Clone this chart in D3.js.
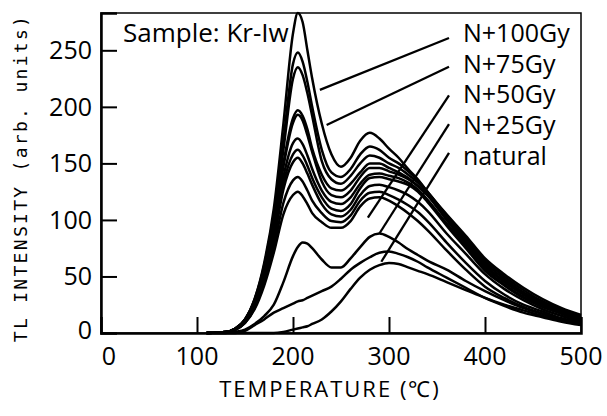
<!DOCTYPE html>
<html>
<head>
<meta charset="utf-8">
<script src="https://cdn.jsdelivr.net/npm/d3@7"></script>
<style>
  body { margin: 0; background: #fff; }
  svg text { font-family: "Open Sans", sans-serif; fill: #000; }
</style>
</head>
<body>
<div id="chart"></div>
<script>
// temperature grid (degC) shared by all glow curves
const temps = [110, 130, 140, 150, 160, 170, 180, 190, 200, 205, 210, 215, 220, 230, 240, 250,
  260, 270, 280, 290, 300, 310, 320, 330, 340, 360, 380, 400, 420, 440, 460, 480, 500];

// TL intensity (arb. units)
const glow1 = [0, 1, 4, 12, 30, 62, 110, 185, 265, 283, 275, 250, 225, 185, 158, 147, 155, 170, 177, 172, 163, 155, 145, 136, 125, 105, 86, 66, 52, 40, 30, 22, 16];
const glow2 = [0, 1, 4, 12, 30, 60, 105, 170, 238, 248, 240, 222, 200, 162, 142, 138, 145, 158, 165, 162, 155, 150, 143, 135, 125, 104, 84, 64, 50, 38, 28, 21, 15];
const glow3 = [0, 1, 4, 12, 29, 58, 100, 162, 225, 235, 228, 212, 192, 152, 136, 132, 139, 150, 157, 155, 150, 146, 140, 133, 124, 103, 82, 62, 48, 36, 27, 20, 14];
const glow4 = [0, 1, 4, 11, 28, 55, 95, 150, 190, 197, 192, 180, 163, 140, 128, 126, 132, 142, 150, 150, 146, 142, 137, 130, 122, 101, 80, 60, 46, 35, 26, 19, 13];
const glow5 = [0, 1, 4, 11, 27, 54, 93, 147, 186, 193, 188, 175, 160, 134, 122, 120, 126, 138, 146, 146, 143, 140, 136, 130, 122, 100, 79, 59, 45, 34, 25, 18, 12];
const glow6 = [0, 1, 3, 10, 26, 52, 88, 138, 168, 172, 167, 157, 145, 126, 116, 114, 120, 132, 140, 141, 139, 137, 133, 127, 118, 97, 77, 57, 43, 32, 24, 17, 12];
const glow7 = [0, 1, 3, 10, 25, 50, 85, 132, 158, 162, 157, 148, 137, 120, 110, 108, 114, 128, 137, 138, 136, 134, 131, 125, 116, 95, 75, 55, 42, 31, 23, 17, 11];
const glow8 = [0, 1, 3, 10, 24, 48, 82, 127, 151, 155, 150, 141, 131, 114, 105, 103, 109, 122, 130, 131, 129, 126, 122, 116, 108, 88, 70, 52, 39, 29, 21, 15, 10];
const glow9 = [0, 1, 3, 9, 22, 45, 76, 115, 135, 138, 134, 126, 117, 106, 99, 98, 104, 117, 124, 125, 122, 118, 113, 107, 99, 80, 62, 46, 34, 25, 19, 13, 9];
const glow10 = [0, 1, 3, 9, 21, 42, 71, 105, 122, 125, 121, 114, 106, 98, 93, 93, 99, 112, 119, 120, 117, 112, 106, 99, 91, 73, 56, 41, 31, 23, 17, 12, 8];
const glow11 = [0, 0, 1, 3, 8, 15, 25, 45, 68, 76, 80, 79, 75, 65, 58, 58, 66, 76, 85, 88, 85, 80, 74, 69, 64, 56, 46, 37, 29, 22, 17, 12, 8];
const glow12 = [0, 0, 0, 2, 7, 12, 18, 22, 26, 28, 29, 31, 33, 37, 41, 48, 56, 62, 67, 71, 72, 70, 67, 63, 58, 49, 40, 31, 24, 18, 14, 10, 7];
const glowNatural = [0, 0, 0, 0, 0, 0, 0, 1, 3, 4, 5, 6, 8, 12, 19, 28, 39, 49, 56, 60, 62, 61, 58, 55, 52, 45, 38, 31, 25, 20, 15, 11, 8];

const glowCurves = [glow1, glow2, glow3, glow4, glow5, glow6, glow7, glow8, glow9, glow10, glow11, glow12, glowNatural];

// labels and where their leader lines point (temperature, intensity)
const doseLabels = ["N+100Gy", "N+75Gy", "N+50Gy", "N+25Gy", "natural"];
const leaderTargets = [[228, 215], [235, 184], [278, 102], [290, 88], [292, 63]];

const xTicks = [0, 100, 200, 300, 400, 500];
const yTicks = [0, 50, 100, 150, 200, 250];
const sampleText = "Sample: Kr-Iw";

// layout
const width = 607;
const height = 416;
const margin = { top: 13, right: 26, bottom: 83, left: 101 };

const svg = d3.select("#chart")
  .append("svg")
  .attr("width", width)
  .attr("height", height);

const x = d3.scaleLinear()
  .domain([0, 500])
  .range([margin.left, width - margin.right]);

const y = d3.scaleLinear()
  .domain([0, 283])
  .range([height - margin.bottom, margin.top]);

// curves
const line = d3.line()
  .x((d, i) => x(temps[i]))
  .y(d => y(d))
  .curve(d3.curveMonotoneX);

svg.append("g")
  .selectAll("path")
  .data(glowCurves)
  .join("path")
  .attr("d", line)
  .attr("fill", "none")
  .attr("stroke", "#000")
  .attr("stroke-width", 2.5)
  .attr("stroke-linejoin", "round");

// frame
svg.append("rect")
  .attr("x", x(0))
  .attr("y", y(283))
  .attr("width", x(500) - x(0))
  .attr("height", y(0) - y(283))
  .attr("fill", "none")
  .attr("stroke", "#000")
  .attr("stroke-width", 1.5);

// axes with inward ticks
const xAxis = g => g
  .attr("transform", `translate(0, ${y(0)})`)
  .call(d3.axisTop(x).tickValues(xTicks).tickSize(16).tickFormat(""))
  .call(g => g.selectAll(".tick").filter(d => d === 0 || d === 500).remove())
  .call(g => g.selectAll(".tick line").attr("stroke-width", 2))
  .call(g => g.select(".domain").attr("stroke-width", 2.5));

const yAxis = g => g
  .attr("transform", `translate(${x(0)}, 0)`)
  .call(d3.axisRight(y).tickValues(yTicks).tickSize(16).tickFormat(""))
  .call(g => g.selectAll(".tick").filter(d => d === 0).remove())
  .call(g => g.selectAll(".tick line").attr("stroke-width", 2))
  .call(g => g.select(".domain").attr("stroke-width", 2.5));

svg.append("g").call(xAxis);
svg.append("g").call(yAxis);

// tick labels
svg.append("g")
  .selectAll("text")
  .data(xTicks)
  .join("text")
  .attr("x", d => x(d) + (d === 0 ? 8 : 0))
  .attr("y", y(0) + 32)
  .attr("text-anchor", "middle")
  .attr("font-size", 25)
  .text(d => d);

svg.append("g")
  .selectAll("text")
  .data(yTicks)
  .join("text")
  .attr("x", x(0) - 9)
  .attr("y", d => y(d) + 9 - (d === 0 ? 3 : 0))
  .attr("text-anchor", "end")
  .attr("font-size", 25)
  .text(d => d);

// axis titles
svg.append("text")
  .attr("x", 330)
  .attr("y", 397)
  .attr("text-anchor", "middle")
  .attr("font-size", 22)
  .style("letter-spacing", "2px")
  .text("TEMPERATURE (℃)");

svg.append("text")
  .attr("transform", "translate(27, 178) rotate(-90)")
  .attr("text-anchor", "middle")
  .attr("font-size", 18)
  .style("font-family", "'DejaVu Sans Mono', monospace")
  .style("letter-spacing", "2.3px")
  .text("TL INTENSITY (arb. units)");

// sample name
svg.append("text")
  .attr("x", 123)
  .attr("y", 42)
  .attr("font-size", 26)
  .text(sampleText);

// dose labels with leader lines
const labelX = 463;
const labelY = i => 42 + i * 30.7;

svg.append("g")
  .selectAll("text")
  .data(doseLabels)
  .join("text")
  .attr("x", labelX)
  .attr("y", (d, i) => labelY(i))
  .attr("font-size", 25)
  .text(d => d);

svg.append("g")
  .selectAll("line")
  .data(leaderTargets)
  .join("line")
  .attr("x1", labelX - 14)
  .attr("y1", (d, i) => labelY(i) - 4 - i * 2)
  .attr("x2", d => x(d[0]))
  .attr("y2", d => y(d[1]))
  .attr("stroke", "#000")
  .attr("stroke-width", 2.3);
</script>
</body>
</html>
